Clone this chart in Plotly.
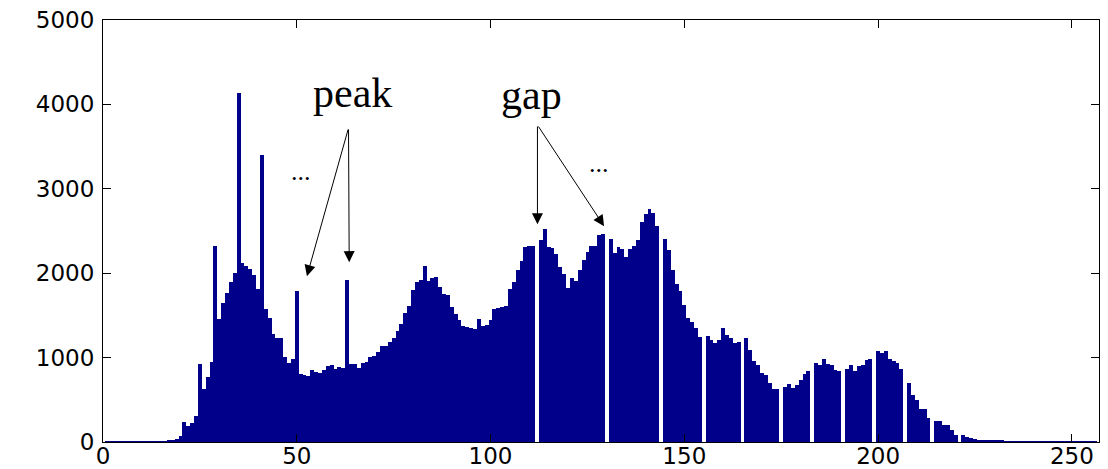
import plotly.graph_objects as go

# Histogram bins (gray levels 1..256) and counts
bins = list(range(1, 257))
counts = [
    4, 4, 4, 4, 4, 4, 4, 4, 4, 4,            # 1-10
    4, 4, 4, 4, 4, 6, 12, 28, 40, 67,         # 11-20
    241, 190, 229, 313, 929, 632, 771, 945, 2324, 1455,   # 21-30
    1652, 1767, 1897, 2004, 4130, 2122, 2083, 2055, 1976, 1818,  # 31-40
    3400, 1581, 1474, 1285, 1237, 1233, 1008, 941, 980, 1790,    # 41-50
    800, 790, 785, 850, 830, 815, 850, 895, 910, 870,            # 51-60
    890, 875, 1925, 921, 929, 881, 941, 953, 1008, 1024,         # 61-70
    1063, 1142, 1134, 1182, 1229, 1316, 1403, 1530, 1617, 1806,  # 71-80
    1897, 1920, 2083, 1909, 1949, 1957, 1838, 1751, 1739, 1601,  # 81-90
    1522, 1451, 1370, 1360, 1352, 1344, 1458, 1375, 1391, 1443,  # 91-100
    1577, 1585, 1595, 1609, 1818, 1897, 2043, 2142, 2312, 2324,  # 101-110
    2324, 0, 2391, 2522, 2312, 2304, 2233, 2075, 1988, 1826,     # 111-120
    1945, 1909, 2036, 2162, 2253, 2324, 2324, 2458, 2466, 0,     # 121-130
    2411, 2241, 2312, 2289, 2194, 2281, 2320, 2391, 2601, 2700,  # 131-140
    2755, 2708, 2561, 0, 2403, 2273, 2043, 1870, 1787, 1621,     # 141-150
    1474, 1427, 1356, 1245, 0, 1257, 1206, 1174, 1213, 1348,     # 151-160
    1269, 1229, 1174, 1182, 0, 1229, 1087, 957, 909, 822,        # 161-170
    791, 696, 625, 632, 0, 652, 692, 640, 672, 739,              # 171-180
    802, 838, 0, 941, 909, 988, 921, 917, 850, 838,              # 181-190
    0, 870, 909, 842, 901, 913, 976, 980, 0, 1075,               # 191-200
    1055, 1075, 988, 960, 937, 870, 0, 704, 553, 494,            # 201-210
    395, 387, 285, 0, 245, 245, 205, 198, 138, 79,               # 211-220
    0, 79, 59, 47, 32, 20, 20, 12, 20, 12,                       # 221-230
    20, 12, 8, 5, 5, 5, 5, 5, 5, 5,                              # 231-240
    3, 3, 3, 3, 3, 3, 3, 3, 3, 3,                                # 241-250
    3, 3, 3, 3, 3, 3,                                            # 251-256
]

x_ticks = [0, 50, 100, 150, 200, 250]
y_ticks = [0, 1000, 2000, 3000, 4000, 5000]

fig = go.Figure()
fig.add_trace(go.Bar(
    x=bins, y=counts, width=1,
    marker=dict(color="#00008B", line=dict(width=0)),
    hoverinfo="x+y",
))

tick_font = dict(family="DejaVu Sans", size=23, color="black")
axis_common = dict(
    showline=True, linecolor="black", linewidth=1, mirror="ticks",
    ticks="inside", ticklen=8, tickcolor="black", tickwidth=1,
    showgrid=False, zeroline=False, tickfont=tick_font, automargin=False,
    ticklabeloverflow="allow",
)
fig.update_xaxes(range=[0, 257], tickvals=x_ticks, ticktext=[str(v) for v in x_ticks],
                 ticklabelstandoff=-7, **axis_common)
fig.update_yaxes(range=[0, 5000], tickvals=y_ticks, ticktext=[str(v) for v in y_ticks],
                 ticklabelstandoff=3, **axis_common)

serif = "Liberation Serif"
annotations = [
    dict(x=64.4, y=4130, text="peak", showarrow=False, xanchor="center", yanchor="middle",
         font=dict(family=serif, size=42, color="black")),
    dict(x=110.6, y=4110, text="gap", showarrow=False, xanchor="center", yanchor="middle",
         font=dict(family=serif, size=42, color="black")),
    dict(x=51.15, y=3204, text="...", showarrow=False, xanchor="center", yanchor="middle",
         font=dict(family=serif, size=26, color="black")),
    dict(x=128.0, y=3299, text="...", showarrow=False, xanchor="center", yanchor="middle",
         font=dict(family=serif, size=26, color="black")),
]
arrow_style = dict(showarrow=True, text="", axref="x", ayref="y", arrowhead=2,
                   arrowsize=2.2, arrowwidth=1, arrowcolor="black", standoff=0, startstandoff=0)
for (hx, hy, tx, ty) in [(52.62, 1965, 63.35, 3720), (63.53, 2131, 63.35, 3720),
                         (112.1, 2581, 112.1, 3756), (129.3, 2557, 112.1, 3756)]:
    annotations.append(dict(x=hx, y=hy, ax=tx, ay=ty, **arrow_style))

# the page adds an 8px body margin, so the figure is sized to fit inside the window
fig.update_layout(
    width=1100, height=461,
    margin=dict(l=95, r=9, t=12, b=27, autoexpand=False),
    paper_bgcolor="white", plot_bgcolor="white",
    bargap=0, showlegend=False,
    annotations=annotations,
)

fig.write_html("out.html")
